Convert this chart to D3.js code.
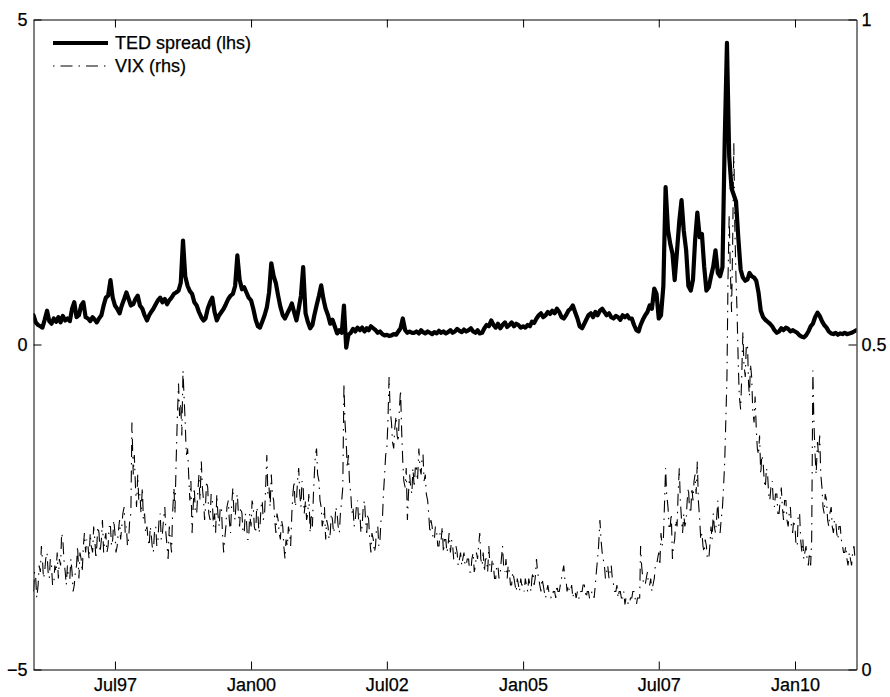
<!DOCTYPE html>
<html>
<head>
<meta charset="utf-8">
<script src="https://cdn.jsdelivr.net/npm/d3@7"></script>
<style>
  html, body { margin: 0; padding: 0; background: #fff; }
  svg text { font-family: "Liberation Sans", Arial, Helvetica, sans-serif; stroke: #000; stroke-width: 0.25px; }
</style>
</head>
<body>
<svg id="chart" width="890" height="697"></svg>
<script>
// Axis ticks and labels
const tickDates = ["1997-07-01", "2000-01-01", "2002-07-01", "2005-01-01", "2007-07-01", "2010-01-01"];
const tickLabels = ["Jul97", "Jan00", "Jul02", "Jan05", "Jul07", "Jan10"];
const leftTicks = [-5, 0, 5];
const rightTicks = [0, 0.5, 1];
const rightTickLabels = ["0", "0.5", "1"];
const seriesNames = ["TED spread (lhs)", "VIX (rhs)"];

// TED spread, percentage points; semi-monthly (1st and 16th), Jan 1996 - Feb 2011
const tedSpread = [
  0.45,0.34,0.30,0.28,0.26,0.38,0.52,0.36,0.32,0.40,0.35,0.42,0.34,0.44,0.37,0.40,0.36,0.55,0.65,0.42,0.45,0.60,0.65,0.42, // 1996
  0.40,0.36,0.42,0.38,0.34,0.40,0.45,0.60,0.72,0.75,0.99,0.72,0.60,0.55,0.48,0.60,0.70,0.80,0.70,0.60,0.62,0.70,0.75,0.60, // 1997
  0.55,0.45,0.37,0.45,0.50,0.55,0.62,0.68,0.72,0.65,0.70,0.62,0.68,0.72,0.78,0.80,0.83,0.95,1.60,1.05,0.90,0.82,0.78,0.65, // 1998
  0.60,0.50,0.42,0.37,0.40,0.55,0.65,0.72,0.50,0.37,0.45,0.50,0.55,0.62,0.70,0.75,0.78,0.90,1.37,1.00,0.85,0.88,0.80,0.72, // 1999
  0.68,0.55,0.38,0.28,0.26,0.35,0.45,0.57,0.80,1.25,1.05,0.94,0.75,0.58,0.45,0.40,0.48,0.55,0.63,0.50,0.37,0.55,0.75,1.19, // 2000
  0.48,0.35,0.25,0.30,0.45,0.60,0.75,0.91,0.70,0.55,0.45,0.32,0.38,0.28,0.17,0.22,0.18,0.60,-0.05,0.15,0.18,0.24,0.20,0.26, // 2001
  0.22,0.26,0.20,0.25,0.22,0.28,0.25,0.22,0.18,0.20,0.16,0.14,0.15,0.13,0.14,0.16,0.15,0.20,0.25,0.40,0.22,0.18,0.20,0.18, // 2002
  0.18,0.20,0.17,0.22,0.19,0.17,0.20,0.18,0.16,0.19,0.17,0.21,0.18,0.20,0.17,0.19,0.22,0.18,0.20,0.24,0.21,0.19,0.23,0.20, // 2003
  0.22,0.25,0.20,0.18,0.22,0.17,0.18,0.25,0.30,0.28,0.37,0.30,0.26,0.32,0.25,0.30,0.34,0.27,0.30,0.34,0.28,0.32,0.30,0.26, // 2004
  0.28,0.26,0.30,0.28,0.35,0.33,0.40,0.45,0.48,0.42,0.45,0.50,0.47,0.52,0.48,0.55,0.50,0.42,0.40,0.45,0.52,0.55,0.60,0.50, // 2005
  0.40,0.28,0.25,0.32,0.38,0.45,0.48,0.42,0.50,0.45,0.52,0.55,0.50,0.45,0.48,0.42,0.40,0.44,0.42,0.38,0.45,0.42,0.45,0.40, // 2006
  0.40,0.30,0.22,0.20,0.30,0.38,0.45,0.50,0.60,0.55,0.86,0.78,0.40,0.45,0.90,2.42,1.76,1.55,1.40,0.99,1.45,1.90,2.22,1.75, // 2007
  1.45,0.90,0.83,1.00,1.60,2.03,1.65,1.70,1.20,0.83,0.88,1.05,1.20,1.45,1.10,1.05,1.19,3.14,4.64,2.90,2.40,2.30,2.20,1.65, // 2008
  1.15,1.03,0.98,1.00,1.10,1.05,1.03,0.98,0.80,0.52,0.42,0.38,0.35,0.32,0.28,0.22,0.18,0.20,0.25,0.22,0.26,0.24,0.20,0.22, // 2009
  0.20,0.18,0.14,0.12,0.11,0.14,0.20,0.28,0.32,0.42,0.49,0.44,0.36,0.30,0.26,0.20,0.17,0.16,0.18,0.15,0.17,0.16,0.18,0.16, // 2010
  0.17,0.18,0.20,0.22                                                                                                      // 2011
];

// VIX index / 100; weekly-ish (1st, 8th, 16th, 23rd), Jan 1996 - Feb 2011
const vix = [
  0.12,0.15,0.14,0.11,0.13,0.16,0.15,0.19,0.17,0.14,0.15,0.17,0.18,0.15,0.14,0.17,0.16,0.13,0.13,0.16,0.15,0.18,0.14,0.17,
  0.16,0.21,0.20,0.17,0.15,0.13,0.16,0.14,0.14,0.17,0.15,0.12,0.13,0.15,0.16,0.19,0.14,0.18,0.17,0.15,0.19,0.21,0.18,0.20, // 1996
  0.19,0.17,0.21,0.19,0.18,0.22,0.20,0.17,0.19,0.22,0.21,0.18,0.20,0.23,0.18,0.20,0.21,0.18,0.19,0.22,0.22,0.19,0.20,0.23,
  0.21,0.18,0.19,0.21,0.23,0.20,0.22,0.24,0.25,0.21,0.22,0.19,0.20,0.23,0.24,0.38,0.30,0.33,0.28,0.25,0.30,0.26,0.27,0.24, // 1997
  0.28,0.23,0.24,0.21,0.22,0.20,0.19,0.22,0.21,0.19,0.18,0.21,0.22,0.19,0.20,0.23,0.24,0.20,0.21,0.23,0.25,0.21,0.19,0.17,
  0.22,0.20,0.18,0.24,0.28,0.24,0.32,0.38,0.44,0.39,0.41,0.36,0.46,0.42,0.38,0.33,0.34,0.30,0.26,0.29,0.21,0.25,0.28,0.24, // 1998
  0.24,0.27,0.30,0.26,0.32,0.28,0.26,0.23,0.25,0.29,0.28,0.24,0.23,0.27,0.26,0.22,0.24,0.21,0.27,0.24,0.22,0.25,0.25,0.21,
  0.18,0.20,0.22,0.25,0.26,0.23,0.21,0.25,0.28,0.24,0.23,0.26,0.27,0.24,0.22,0.25,0.24,0.21,0.21,0.24,0.23,0.20,0.20,0.24, // 1999
  0.22,0.26,0.25,0.22,0.21,0.25,0.24,0.21,0.22,0.25,0.26,0.23,0.24,0.28,0.33,0.27,0.28,0.25,0.30,0.27,0.26,0.23,0.21,0.24,
  0.23,0.21,0.20,0.23,0.22,0.19,0.17,0.20,0.19,0.22,0.21,0.19,0.24,0.27,0.29,0.25,0.26,0.29,0.31,0.27,0.25,0.29,0.28,0.24, // 2000
  0.26,0.23,0.24,0.27,0.21,0.24,0.22,0.27,0.30,0.33,0.34,0.30,0.29,0.26,0.25,0.22,0.23,0.25,0.20,0.23,0.22,0.20,0.21,0.24,
  0.23,0.21,0.22,0.25,0.24,0.22,0.21,0.24,0.26,0.28,0.44,0.38,0.35,0.31,0.33,0.29,0.27,0.24,0.25,0.22,0.23,0.25,0.26,0.23, // 2001
  0.24,0.21,0.22,0.25,0.26,0.23,0.21,0.24,0.23,0.20,0.18,0.21,0.20,0.18,0.19,0.22,0.22,0.19,0.20,0.23,0.23,0.27,0.30,0.33,
  0.34,0.38,0.45,0.40,0.38,0.35,0.34,0.37,0.39,0.36,0.35,0.40,0.43,0.37,0.32,0.29,0.28,0.31,0.23,0.27,0.30,0.28,0.27,0.31, // 2002
  0.28,0.31,0.31,0.29,0.34,0.31,0.30,0.33,0.33,0.29,0.30,0.27,0.26,0.24,0.21,0.23,0.22,0.20,0.20,0.22,0.21,0.19,0.19,0.21,
  0.20,0.22,0.18,0.20,0.20,0.18,0.19,0.21,0.18,0.20,0.19,0.17,0.17,0.19,0.18,0.16,0.17,0.18,0.16,0.17,0.18,0.16,0.16,0.17, // 2003
  0.17,0.15,0.15,0.17,0.18,0.15,0.16,0.18,0.17,0.19,0.21,0.17,0.16,0.18,0.15,0.17,0.17,0.15,0.19,0.16,0.15,0.17,0.16,0.14,
  0.14,0.16,0.16,0.14,0.15,0.17,0.19,0.16,0.15,0.17,0.14,0.16,0.15,0.13,0.13,0.15,0.14,0.13,0.12,0.14,0.13,0.12,0.14,0.13, // 2004
  0.13,0.12,0.14,0.13,0.12,0.14,0.13,0.12,0.14,0.15,0.13,0.14,0.17,0.15,0.14,0.13,0.12,0.14,0.13,0.12,0.11,0.12,0.13,0.12,
  0.12,0.11,0.11,0.12,0.12,0.11,0.13,0.12,0.12,0.13,0.14,0.15,0.16,0.14,0.14,0.12,0.13,0.12,0.12,0.13,0.11,0.12,0.12,0.11, // 2005
  0.12,0.11,0.11,0.12,0.12,0.13,0.13,0.12,0.11,0.12,0.12,0.11,0.11,0.12,0.12,0.11,0.13,0.15,0.17,0.19,0.23,0.20,0.18,0.17,
  0.16,0.14,0.15,0.16,0.14,0.15,0.16,0.14,0.13,0.12,0.12,0.13,0.11,0.12,0.12,0.11,0.11,0.12,0.10,0.11,0.11,0.10,0.10,0.11, // 2006
  0.11,0.12,0.12,0.11,0.10,0.11,0.11,0.11,0.19,0.16,0.14,0.13,0.13,0.14,0.15,0.13,0.13,0.14,0.12,0.13,0.14,0.16,0.16,0.17,
  0.18,0.16,0.21,0.19,0.20,0.25,0.31,0.27,0.25,0.22,0.22,0.24,0.17,0.19,0.20,0.23,0.22,0.27,0.31,0.26,0.23,0.21,0.24,0.22, // 2007
  0.23,0.26,0.28,0.25,0.24,0.28,0.26,0.29,0.30,0.27,0.32,0.26,0.23,0.20,0.21,0.19,0.18,0.20,0.19,0.17,0.17,0.19,0.22,0.20,
  0.24,0.22,0.21,0.23,0.26,0.22,0.21,0.23,0.25,0.28,0.32,0.38,0.45,0.60,0.70,0.62,0.55,0.65,0.81,0.68,0.60,0.55,0.47,0.42, // 2008
  0.40,0.45,0.52,0.47,0.45,0.50,0.50,0.44,0.42,0.47,0.45,0.40,0.38,0.42,0.37,0.34,0.33,0.36,0.30,0.33,0.32,0.29,0.28,0.31,
  0.30,0.27,0.26,0.28,0.29,0.26,0.25,0.27,0.27,0.24,0.24,0.26,0.28,0.25,0.23,0.26,0.26,0.23,0.22,0.24,0.25,0.22,0.21,0.23, // 2009
  0.22,0.19,0.19,0.24,0.24,0.20,0.18,0.20,0.17,0.18,0.19,0.17,0.16,0.18,0.16,0.20,0.46,0.38,0.33,0.30,0.35,0.33,0.36,0.30,
  0.28,0.25,0.24,0.27,0.26,0.23,0.22,0.24,0.25,0.22,0.21,0.23,0.23,0.21,0.20,0.22,0.22,0.20,0.19,0.18,0.18,0.19,0.17,0.16, // 2010
  0.18,0.17,0.16,0.18,0.19,0.17,0.17                                                                                       // 2011
];

// Observation dates
const semiMonthDays = [1, 16];
const weekDays = [1, 8, 16, 23];
const tedDates = tedSpread.map((_, i) =>
  new Date(1996 + Math.floor(i / 24), Math.floor((i % 24) / 2), semiMonthDays[i % 2]));
const vixDates = vix.map((_, i) =>
  new Date(1996 + Math.floor(i / 48), Math.floor((i % 48) / 4), weekDays[i % 4]));

const svg = d3.select("#chart");
const plot = { left: 33.5, right: 856.5, top: 19.5, bottom: 669.5 };
const fontSize = 18;

const x = d3.scaleTime()
  .domain([new Date(1996, 0, 1), new Date(2011, 1, 18)])
  .range([plot.left, plot.right]);
const yL = d3.scaleLinear().domain([-5, 5]).range([plot.bottom, plot.top]);
const yR = d3.scaleLinear().domain([0, 1]).range([plot.bottom, plot.top]);

svg.append("defs").append("clipPath").attr("id", "plotClip")
  .append("rect")
  .attr("x", plot.left).attr("y", plot.top)
  .attr("width", plot.right - plot.left).attr("height", plot.bottom - plot.top);

// Series
const lines = svg.append("g").attr("clip-path", "url(#plotClip)");

const tedLine = d3.line().x((d, i) => x(tedDates[i])).y(d => yL(d));
const vixLine = d3.line().x((d, i) => x(vixDates[i])).y(d => yR(d));

lines.append("path")
  .datum(tedSpread)
  .attr("d", tedLine)
  .attr("fill", "none")
  .attr("stroke", "#000")
  .attr("stroke-width", 4.2)
  .attr("stroke-linejoin", "round")
  .attr("stroke-linecap", "round");

const vixDash = "12,6,1.5,6";
lines.append("path")
  .datum(vix)
  .attr("d", vixLine)
  .attr("fill", "none")
  .attr("stroke", "#000")
  .attr("stroke-width", 1.1)
  .attr("stroke-dasharray", vixDash);

// Axes (ticks point inward, box drawn by the four domain lines)
const tickLen = 8;
const xTickValues = tickDates.map(s => d3.timeParse("%Y-%m-%d")(s));

const styleAxis = g => {
  g.attr("font-size", fontSize).attr("font-family", null);
  g.select(".domain").attr("stroke", "#000").attr("stroke-width", 1);
  g.selectAll(".tick line").attr("stroke", "#000").attr("stroke-width", 1);
  g.selectAll(".tick text").attr("fill", "#000");
};

svg.append("g")
  .attr("transform", `translate(0,${plot.bottom})`)
  .call(d3.axisBottom(x).tickValues(xTickValues)
    .tickFormat((d, i) => tickLabels[i])
    .tickSizeInner(-tickLen).tickSizeOuter(0).tickPadding(9))
  .call(styleAxis);

svg.append("g")
  .attr("transform", `translate(0,${plot.top})`)
  .call(d3.axisTop(x).tickValues(xTickValues).tickFormat("")
    .tickSizeInner(-tickLen).tickSizeOuter(0))
  .call(styleAxis);

svg.append("g")
  .attr("transform", `translate(${plot.left},0)`)
  .call(d3.axisLeft(yL).tickValues(leftTicks)
    .tickFormat(d3.format("d"))
    .tickSizeInner(-tickLen).tickSizeOuter(0).tickPadding(6))
  .call(styleAxis);

svg.append("g")
  .attr("transform", `translate(${plot.right},0)`)
  .call(d3.axisRight(yR).tickValues(rightTicks)
    .tickFormat((d, i) => rightTickLabels[i])
    .tickSizeInner(-tickLen).tickSizeOuter(0).tickPadding(5))
  .call(styleAxis);

// Legend
const legend = svg.append("g").attr("transform", "translate(53,0)");
const legendRows = [
  { name: seriesNames[0], y: 43, width: 4.2, dash: null },
  { name: seriesNames[1], y: 66, width: 1.1, dash: "1.5,6,12,6" }
];
legendRows.forEach(r => {
  legend.append("line")
    .attr("x1", 0).attr("x2", 55)
    .attr("y1", r.y).attr("y2", r.y)
    .attr("stroke", "#000")
    .attr("stroke-width", r.width)
    .attr("stroke-dasharray", r.dash);
  legend.append("text")
    .attr("x", 62).attr("y", r.y)
    .attr("dy", "0.35em")
    .attr("font-size", fontSize)
    .attr("fill", "#000")
    .text(r.name);
});
</script>
</body>
</html>
